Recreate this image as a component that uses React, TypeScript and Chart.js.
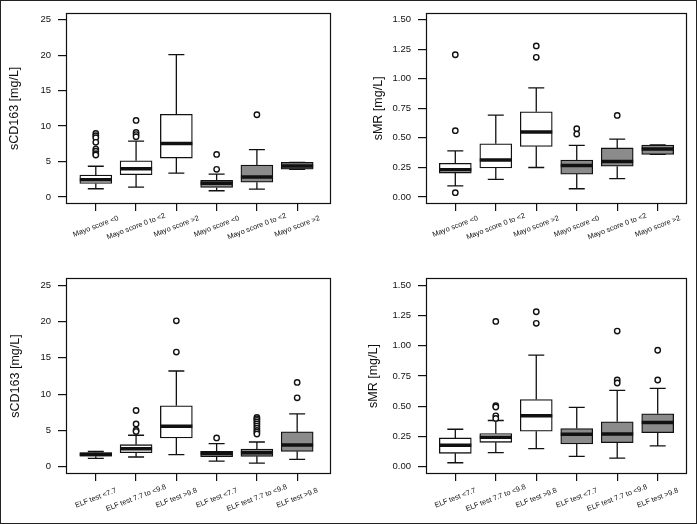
import React, { useEffect, useRef } from 'react';
import { Chart, registerables } from 'chart.js';

Chart.register(...registerables);

// ---------- DATA ----------
const mayoLabels = ['Mayo score <0', 'Mayo score 0 to <2', 'Mayo score >2', 'Mayo score <0', 'Mayo score 0 to <2', 'Mayo score >2'];
const elfLabels = ['ELF test <7.7', 'ELF test 7.7 to <9.8', 'ELF test >9.8', 'ELF test <7.7', 'ELF test 7.7 to <9.8', 'ELF test >9.8'];

const cd163Ticks = [0, 5, 10, 15, 20, 25];
const smrTicks = [0, 0.25, 0.5, 0.75, 1.0, 1.25, 1.5];

// sCD163 by Mayo score
const cd163MayoLow = [1.15, 1.38, 3.36, 0.87, 1.1, 3.9];
const cd163MayoQ1 = [1.89, 3.13, 5.48, 1.34, 2.07, 3.91];
const cd163MayoMed = [2.44, 3.96, 7.55, 1.93, 2.81, 4.37];
const cd163MayoQ3 = [3.08, 5.11, 11.65, 2.35, 4.51, 4.88];
const cd163MayoHigh = [4.33, 7.87, 20.07, 3.22, 6.68, 4.88];
const cd163MayoOut: [number, number][] = [
  [1, 8.95], [1, 8.65], [1, 8.35], [1, 7.7], [1, 6.75], [1, 6.45], [1, 6.1], [1, 5.9],
  [2, 10.8], [2, 9.1], [2, 8.8], [2, 8.5],
  [4, 6.0], [4, 3.9],
  [5, 11.6],
];

// sMR by Mayo score
const smrMayoLow = [0.094, 0.149, 0.249, 0.069, 0.155, 0.36];
const smrMayoQ1 = [0.202, 0.246, 0.428, 0.193, 0.26, 0.36];
const smrMayoMed = [0.229, 0.312, 0.55, 0.265, 0.3, 0.405];
const smrMayoQ3 = [0.285, 0.45, 0.721, 0.312, 0.415, 0.44];
const smrMayoHigh = [0.39, 0.693, 0.923, 0.436, 0.49, 0.44];
const smrMayoOut: [number, number][] = [
  [1, 1.204], [1, 0.561], [1, 0.036],
  [3, 1.279], [3, 1.182],
  [4, 0.578], [4, 0.532],
  [5, 0.69],
];

// sCD163 by ELF test
const cd163ElfLow = [1.15, 1.34, 1.66, 0.78, 0.51, 1.01];
const cd163ElfQ1 = [1.45, 1.94, 3.97, 1.38, 1.43, 2.12];
const cd163ElfMed = [1.7, 2.49, 5.58, 1.85, 1.94, 3.0];
const cd163ElfQ3 = [1.95, 3.04, 8.39, 2.12, 2.44, 4.8];
const cd163ElfHigh = [2.1, 4.34, 13.19, 3.18, 3.41, 7.29];
const cd163ElfOut: [number, number][] = [
  [2, 7.75], [2, 5.9], [2, 5.03], [2, 4.85],
  [3, 20.1], [3, 15.8],
  [4, 3.97],
  [5, 6.8], [5, 6.6], [5, 6.4], [5, 6.15], [5, 5.9], [5, 5.6], [5, 5.3], [5, 5.0], [5, 4.75], [5, 4.5],
  [6, 11.62], [6, 9.5],
];

// sMR by ELF test
const smrElfLow = [0.033, 0.116, 0.149, 0.086, 0.072, 0.172];
const smrElfQ1 = [0.111, 0.202, 0.293, 0.188, 0.199, 0.282];
const smrElfMed = [0.177, 0.244, 0.421, 0.268, 0.271, 0.365];
const smrElfQ3 = [0.238, 0.274, 0.556, 0.316, 0.371, 0.437];
const smrElfHigh = [0.31, 0.382, 0.922, 0.49, 0.631, 0.648];
const smrElfOut: [number, number][] = [
  [2, 1.201], [2, 0.504], [2, 0.493], [2, 0.421], [2, 0.399],
  [3, 1.281], [3, 1.185],
  [5, 1.121], [5, 0.717], [5, 0.692],
  [6, 0.963], [6, 0.717],
];

// ---------- STYLE ----------
const FONT = "'Liberation Sans', Arial, Helvetica, sans-serif";
const INK = '#111111';
const GREY = '#8b8b8b';
const BOX_W = 32;
const CAP_HALF = 8;

type PanelCfg = {
  canvas: { left: number; top: number; w: number; h: number };
  area: { left: number; top: number; right: number; bottom: number };
  xmin: number;
  xmax: number;
  ymin: number;
  ymax: number;
  yTicks: number[];
  decimals: number;
  title: string;
  titleX: number;
  labelDy: number;
  labels: string[];
  low: number[];
  q1: number[];
  med: number[];
  q3: number[];
  high: number[];
  out: [number, number][];
};

const panels: PanelCfg[] = [
  {
    canvas: { left: 0, top: 0, w: 347, h: 262 },
    area: { left: 66, top: 9, right: 331, bottom: 204 },
    xmin: 0.26, xmax: 6.84, ymin: -1, ymax: 26, yTicks: cd163Ticks, decimals: 0,
    title: 'sCD163 [mg/L]', titleX: 15, labelDy: 22.5, labels: mayoLabels,
    low: cd163MayoLow, q1: cd163MayoQ1, med: cd163MayoMed, q3: cd163MayoQ3, high: cd163MayoHigh, out: cd163MayoOut,
  },
  {
    canvas: { left: 347, top: 0, w: 350, h: 262 },
    area: { left: 79, top: 9, right: 340, bottom: 204 },
    xmin: 0.276, xmax: 6.724, ymin: -0.06, ymax: 1.56, yTicks: smrTicks, decimals: 2,
    title: 'sMR [mg/L]', titleX: 32, labelDy: 22.5, labels: mayoLabels,
    low: smrMayoLow, q1: smrMayoQ1, med: smrMayoMed, q3: smrMayoQ3, high: smrMayoHigh, out: smrMayoOut,
  },
  {
    canvas: { left: 0, top: 262, w: 347, h: 262 },
    area: { left: 66, top: 16, right: 331, bottom: 212 },
    xmin: 0.26, xmax: 6.84, ymin: -1, ymax: 26, yTicks: cd163Ticks, decimals: 0,
    title: 'sCD163 [mg/L]', titleX: 16, labelDy: 24, labels: elfLabels,
    low: cd163ElfLow, q1: cd163ElfQ1, med: cd163ElfMed, q3: cd163ElfQ3, high: cd163ElfHigh, out: cd163ElfOut,
  },
  {
    canvas: { left: 347, top: 262, w: 350, h: 262 },
    area: { left: 79, top: 16, right: 340, bottom: 212 },
    xmin: 0.276, xmax: 6.724, ymin: -0.06, ymax: 1.56, yTicks: smrTicks, decimals: 2,
    title: 'sMR [mg/L]', titleX: 27, labelDy: 24, labels: elfLabels,
    low: smrElfLow, q1: smrElfQ1, med: smrElfMed, q3: smrElfQ3, high: smrElfHigh, out: smrElfOut,
  },
];

function BoxPanel({ cfg }: { cfg: PanelCfg }) {
  const ref = useRef<HTMLCanvasElement>(null);

  useEffect(() => {
    const canvas = ref.current;
    if (!canvas) return;
    const { area, canvas: cv } = cfg;
    const cats = cfg.labels.map((_, i) => i + 1);
    const fills = cats.map((c) => (c <= 3 ? '#ffffff' : GREY));
    const titleSize = 12.5;

    const boxPlugin = {
      id: 'boxParts',
      beforeDatasetsDraw(chart: any) {
        const { ctx, scales } = chart;
        const xs = scales.x;
        const ys = scales.y;
        ctx.save();
        ctx.strokeStyle = INK;
        ctx.lineWidth = 1.3;
        ctx.lineCap = 'butt';
        cats.forEach((c, i) => {
          const x = xs.getPixelForValue(c);
          const yl = ys.getPixelForValue(cfg.low[i]);
          const y1 = ys.getPixelForValue(cfg.q1[i]);
          const y3 = ys.getPixelForValue(cfg.q3[i]);
          const yh = ys.getPixelForValue(cfg.high[i]);
          ctx.beginPath();
          ctx.moveTo(x, y3);
          ctx.lineTo(x, yh);
          ctx.moveTo(x, y1);
          ctx.lineTo(x, yl);
          ctx.moveTo(x - CAP_HALF, yh);
          ctx.lineTo(x + CAP_HALF, yh);
          ctx.moveTo(x - CAP_HALF, yl);
          ctx.lineTo(x + CAP_HALF, yl);
          ctx.stroke();
        });
        ctx.restore();
      },
      afterDatasetsDraw(chart: any) {
        const { ctx, scales } = chart;
        const xs = scales.x;
        const ys = scales.y;
        ctx.save();
        ctx.strokeStyle = INK;
        ctx.lineWidth = 3.5;
        ctx.lineCap = 'butt';
        cats.forEach((c, i) => {
          const x = xs.getPixelForValue(c);
          const ym = ys.getPixelForValue(cfg.med[i]);
          ctx.beginPath();
          ctx.moveTo(x - BOX_W / 2, ym);
          ctx.lineTo(x + BOX_W / 2, ym);
          ctx.stroke();
        });
        ctx.restore();
      },
      afterDraw(chart: any) {
        const { ctx, chartArea, scales } = chart;
        const xs = scales.x;
        ctx.save();
        ctx.strokeStyle = INK;
        ctx.lineWidth = 1.2;
        const l = Math.round(chartArea.left) + 0.5;
        const t = Math.round(chartArea.top) + 0.5;
        const r = Math.round(chartArea.right) - 0.5;
        const b = Math.round(chartArea.bottom) - 0.5;
        ctx.strokeRect(l, t, r - l, b - t);
        ctx.fillStyle = INK;
        ctx.font = `7.3px ${FONT}`;
        ctx.textAlign = 'center';
        ctx.textBaseline = 'middle';
        cfg.labels.forEach((lab, i) => {
          const x = xs.getPixelForValue(i + 1);
          ctx.save();
          ctx.translate(x, chartArea.bottom + cfg.labelDy);
          ctx.rotate((-21 * Math.PI) / 180);
          ctx.fillText(lab, 0, 0);
          ctx.restore();
        });
        ctx.restore();
      },
    };

    const chart = new Chart(canvas, {
      type: 'bar',
      data: {
        datasets: [
          {
            type: 'bar',
            data: cats.map((c, i) => ({ x: c, y: [cfg.q1[i], cfg.q3[i]] })) as any,
            backgroundColor: fills,
            borderColor: INK,
            borderWidth: 1.3,
            borderSkipped: false,
            barThickness: BOX_W,
          } as any,
          {
            type: 'scatter',
            data: cfg.out.map(([c, v]) => ({ x: c, y: v })),
            pointRadius: 2.7,
            pointBorderWidth: 1.4,
            pointBackgroundColor: '#ffffff',
            pointBorderColor: INK,
            showLine: false,
          } as any,
        ],
      },
      options: {
        responsive: false,
        animation: false,
        events: [],
        layout: { padding: { left: 0, top: area.top, right: cv.w - area.right, bottom: 0 } },
        plugins: { legend: { display: false }, tooltip: { enabled: false } },
        scales: {
          x: {
            type: 'linear',
            min: cfg.xmin,
            max: cfg.xmax,
            offset: false,
            afterFit: (s: any) => {
              s.height = cv.h - area.bottom;
            },
            afterBuildTicks: (s: any) => {
              s.ticks = cats.map((v) => ({ value: v }));
            },
            ticks: { display: false },
            grid: { display: true, drawOnChartArea: false, drawTicks: true, tickLength: 7, color: INK, lineWidth: 1.2, offset: false },
            border: { display: false },
          },
          y: {
            type: 'linear',
            min: cfg.ymin,
            max: cfg.ymax,
            afterFit: (s: any) => {
              s.width = area.left;
            },
            afterBuildTicks: (s: any) => {
              s.ticks = cfg.yTicks.map((v) => ({ value: v }));
            },
            ticks: {
              color: INK,
              padding: 7,
              font: { family: FONT, size: 9.5 },
              callback: (v: any) => Number(v).toFixed(cfg.decimals),
            },
            grid: { display: true, drawOnChartArea: false, drawTicks: true, tickLength: 8, color: INK, lineWidth: 1.2 },
            border: { display: false },
            title: {
              display: true,
              text: cfg.title,
              color: INK,
              font: { family: FONT, size: titleSize },
              padding: { top: cfg.titleX - (titleSize * 1.2) / 2, bottom: 0 },
            },
          },
        },
      } as any,
      plugins: [boxPlugin],
    });
    return () => chart.destroy();
  }, [cfg]);

  return (
    <canvas
      ref={ref}
      width={cfg.canvas.w}
      height={cfg.canvas.h}
      style={{ position: 'absolute', left: cfg.canvas.left, top: cfg.canvas.top, width: cfg.canvas.w, height: cfg.canvas.h }}
    />
  );
}

export default function App() {
  return (
    <div style={{ position: 'fixed', left: 0, top: 0, width: 697, height: 524, background: '#ffffff' }}>
      {panels.map((p, i) => (
        <BoxPanel key={i} cfg={p} />
      ))}
      <div
        style={{
          position: 'absolute',
          left: 0,
          top: 0,
          width: 697,
          height: 524,
          boxSizing: 'border-box',
          border: '1px solid #222',
          pointerEvents: 'none',
        }}
      />
    </div>
  );
}
